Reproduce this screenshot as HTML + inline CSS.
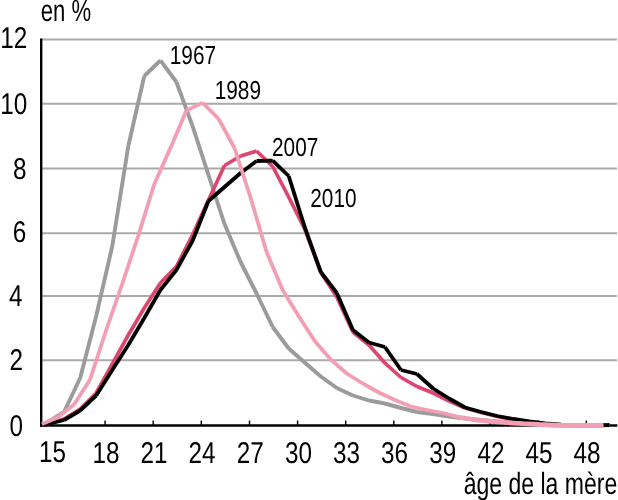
<!DOCTYPE html>
<html lang="fr"><head><meta charset="utf-8"><title>Graphique</title>
<style>
html,body{margin:0;padding:0;background:#fff;}
body{width:618px;height:500px;overflow:hidden;}
svg{display:block;}
text{font-family:"Liberation Sans",sans-serif;fill:#000;text-rendering:geometricPrecision;}
</style></head><body>
<svg width="618" height="500" viewBox="0 0 618 500">
<rect width="618" height="500" fill="#fff"/>
<line x1="41.2" x2="617" y1="39.4" y2="39.4" stroke="#aaaaaa" stroke-width="2"/>
<line x1="41.2" x2="617" y1="103.7" y2="103.7" stroke="#aaaaaa" stroke-width="2"/>
<line x1="41.2" x2="617" y1="168.6" y2="168.6" stroke="#aaaaaa" stroke-width="2"/>
<line x1="41.2" x2="617" y1="233.2" y2="233.2" stroke="#aaaaaa" stroke-width="2"/>
<line x1="41.2" x2="617" y1="296.0" y2="296.0" stroke="#aaaaaa" stroke-width="2"/>
<line x1="41.2" x2="617" y1="360.3" y2="360.3" stroke="#aaaaaa" stroke-width="2"/>
<line x1="41.2" x2="41.2" y1="38.4" y2="426.7" stroke="#000" stroke-width="2.4"/>
<line x1="40.0" x2="617.3" y1="425.5" y2="425.5" stroke="#000" stroke-width="2.4"/>
<line x1="105.1" x2="105.1" y1="420.5" y2="425.5" stroke="#000" stroke-width="1.4"/>
<line x1="153.2" x2="153.2" y1="420.5" y2="425.5" stroke="#000" stroke-width="1.4"/>
<line x1="201.3" x2="201.3" y1="420.5" y2="425.5" stroke="#000" stroke-width="1.4"/>
<line x1="249.5" x2="249.5" y1="420.5" y2="425.5" stroke="#000" stroke-width="1.4"/>
<line x1="297.6" x2="297.6" y1="420.5" y2="425.5" stroke="#000" stroke-width="1.4"/>
<line x1="345.7" x2="345.7" y1="420.5" y2="425.5" stroke="#000" stroke-width="1.4"/>
<line x1="393.8" x2="393.8" y1="420.5" y2="425.5" stroke="#000" stroke-width="1.4"/>
<line x1="441.9" x2="441.9" y1="420.5" y2="425.5" stroke="#000" stroke-width="1.4"/>
<line x1="490.1" x2="490.1" y1="420.5" y2="425.5" stroke="#000" stroke-width="1.4"/>
<line x1="538.2" x2="538.2" y1="420.5" y2="425.5" stroke="#000" stroke-width="1.4"/>
<line x1="586.3" x2="586.3" y1="420.5" y2="425.5" stroke="#000" stroke-width="1.4"/>
<path fill="none" stroke="#9b9b9b" stroke-width="3.9" stroke-linecap="butt" d="M42.4 424.8L48.1 422.0M48.1 422.0L64.1 412.0M64.1 412.0L80.2 378.0M80.2 378.0L96.2 316.0M96.2 316.0L112.3 246.0M112.3 246.0L128.3 146.0M128.3 146.0L144.3 76.0M144.3 76.0L160.4 60.4M160.4 60.4L176.4 82.0M176.4 82.0L192.5 125.8M192.5 125.8L208.5 175.0M208.5 175.0L224.5 224.0M224.5 224.0L240.6 262.0M240.6 262.0L256.6 293.5M256.6 293.5L272.7 327.0M272.7 327.0L288.7 348.5M288.7 348.5L304.7 362.5M304.7 362.5L320.8 376.5M320.8 376.5L336.8 388.0M336.8 388.0L352.9 395.5M352.9 395.5L368.9 400.5M368.9 400.5L384.9 403.5M384.9 403.5L401.0 408.0M401.0 408.0L417.0 412.0M417.0 412.0L433.1 414.0M433.1 414.0L449.1 416.5M449.1 416.5L465.1 418.5M465.1 418.5L481.2 420.0M481.2 420.0L497.2 421.5M497.2 421.5L513.3 422.5M513.3 422.5L529.3 423.5M529.3 423.5L545.3 424.5M545.3 424.5L561.4 425.2M561.4 425.2L577.4 425.3M577.4 425.3L593.5 425.3M593.5 425.3L609.5 425.3"/>
<path fill="none" stroke="#dc466e" stroke-width="3.7" stroke-linecap="butt" d="M42.4 424.8L48.1 424.0M48.1 424.0L64.1 419.0M64.1 419.0L80.2 409.0M80.2 409.0L96.2 393.0M96.2 393.0L112.3 364.0M112.3 364.0L128.3 335.0M128.3 335.0L144.3 308.0M144.3 308.0L160.4 283.0M160.4 283.0L176.4 266.5M176.4 266.5L192.5 235.0M192.5 235.0L208.5 200.0M208.5 200.0L224.5 165.5M224.5 165.5L240.6 156.0M240.6 156.0L256.6 151.0M256.6 151.0L272.7 166.5M272.7 166.5L288.7 197.0M288.7 197.0L304.7 229.0M304.7 229.0L320.8 272.5M320.8 272.5L336.8 297.0M336.8 297.0L352.9 332.0M352.9 332.0L368.9 345.0M368.9 345.0L384.9 363.0M384.9 363.0L401.0 377.5M401.0 377.5L417.0 386.5M417.0 386.5L433.1 393.0M433.1 393.0L449.1 401.0M449.1 401.0L465.1 408.0M465.1 408.0L481.2 412.5M481.2 412.5L497.2 416.5M497.2 416.5L513.3 419.5M513.3 419.5L529.3 422.0M529.3 422.0L545.3 424.0M545.3 424.0L561.4 425.0M561.4 425.0L577.4 425.2M577.4 425.2L593.5 425.2M593.5 425.2L609.5 425.2"/>
<path fill="none" stroke="#000" stroke-width="3.8" stroke-linecap="butt" d="M42.4 424.8L48.1 424.0M48.1 424.0L64.1 420.0M64.1 420.0L80.2 410.5M80.2 410.5L96.2 395.5M96.2 395.5L112.3 370.0M112.3 370.0L128.3 345.0M128.3 345.0L144.3 318.0M144.3 318.0L160.4 290.0M160.4 290.0L176.4 270.0M176.4 270.0L192.5 241.0M192.5 241.0L208.5 201.0M208.5 201.0L224.5 187.0M224.5 187.0L240.6 173.0M240.6 173.0L256.6 161.0M256.6 161.0L272.7 160.7M272.7 160.7L288.7 176.0M288.7 176.0L304.7 227.0M304.7 227.0L320.8 272.0M320.8 272.0L336.8 293.0M336.8 293.0L352.9 330.0M352.9 330.0L368.9 342.5M368.9 342.5L384.9 347.0M384.9 347.0L401.0 370.0M401.0 370.0L417.0 374.0M417.0 374.0L433.1 388.5M433.1 388.5L449.1 398.5M449.1 398.5L465.1 407.5M465.1 407.5L481.2 412.0M481.2 412.0L497.2 416.0M497.2 416.0L513.3 419.0M513.3 419.0L529.3 421.5M529.3 421.5L545.3 423.5M545.3 423.5L561.4 424.7M561.4 424.7L577.4 425.2M577.4 425.2L593.5 425.2M593.5 425.2L609.5 425.2"/>
<path fill="none" stroke="#f29fb4" stroke-width="3.6" stroke-linecap="butt" d="M459.0 417.5L475.1 420.4M475.1 420.4L491.1 422.0M491.1 422.0L507.2 423.3M507.2 423.3L523.2 424.2M523.2 424.2L539.2 425.1M539.2 425.1L555.3 425.9M555.3 425.9L571.3 426.2M571.3 426.2L587.4 426.2M587.4 426.2L603.4 426.2"/>
<path fill="none" stroke="#f29fb4" stroke-width="3.8" stroke-linecap="butt" d="M42.0 424.0L58.0 417.3M58.0 417.3L74.1 404.5M74.1 404.5L90.1 379.5M90.1 379.5L106.2 330.0M106.2 330.0L122.2 284.0M122.2 284.0L138.2 236.0M138.2 236.0L154.3 184.0M154.3 184.0L170.3 148.4M170.3 148.4L186.4 110.6M186.4 110.6L202.4 102.6M202.4 102.6L218.4 118.5M218.4 118.5L234.5 148.0M234.5 148.0L250.5 197.5M250.5 197.5L266.6 252.0M266.6 252.0L282.6 290.0M282.6 290.0L298.6 316.0M298.6 316.0L314.7 341.0M314.7 341.0L330.7 359.5M330.7 359.5L346.8 373.5M346.8 373.5L362.8 383.5M362.8 383.5L378.8 392.5M378.8 392.5L394.9 400.0M394.9 400.0L410.9 406.5M410.9 406.5L427.0 410.0M427.0 410.0L443.0 413.0M443.0 413.0L459.0 417.0M459.0 417.0L475.1 419.5M475.1 419.5L491.1 421.0M491.1 421.0L507.2 422.3M507.2 422.3L523.2 423.2M523.2 423.2L539.2 424.0M539.2 424.0L555.3 424.6M555.3 424.6L571.3 424.8M571.3 424.8L587.4 424.8M587.4 424.8L603.4 424.8"/>
<g opacity="0.999">
<text transform="translate(27.2,48.4) scale(0.81,1)" font-size="30.0" text-anchor="end">12</text>
<text transform="translate(27.2,114.0) scale(0.81,1)" font-size="30.0" text-anchor="end">10</text>
<text transform="translate(26.6,178.5) scale(0.81,1)" font-size="30.0" text-anchor="end">8</text>
<text transform="translate(26.3,241.7) scale(0.81,1)" font-size="30.0" text-anchor="end">6</text>
<text transform="translate(22.4,306.4) scale(0.81,1)" font-size="30.0" text-anchor="end">4</text>
<text transform="translate(23.1,369.9) scale(0.81,1)" font-size="30.0" text-anchor="end">2</text>
<text transform="translate(23.0,435.7) scale(0.81,1)" font-size="30.0" text-anchor="end">0</text>
<text transform="translate(52.4,462.2) scale(0.81,1)" font-size="30.0" text-anchor="middle">15</text>
<text transform="translate(105.9,462.6) scale(0.81,1)" font-size="30.0" text-anchor="middle">18</text>
<text transform="translate(154.0,462.6) scale(0.81,1)" font-size="30.0" text-anchor="middle">21</text>
<text transform="translate(202.1,462.6) scale(0.81,1)" font-size="30.0" text-anchor="middle">24</text>
<text transform="translate(250.3,462.6) scale(0.81,1)" font-size="30.0" text-anchor="middle">27</text>
<text transform="translate(298.4,462.6) scale(0.81,1)" font-size="30.0" text-anchor="middle">30</text>
<text transform="translate(346.5,462.6) scale(0.81,1)" font-size="30.0" text-anchor="middle">33</text>
<text transform="translate(394.6,462.6) scale(0.81,1)" font-size="30.0" text-anchor="middle">36</text>
<text transform="translate(442.7,462.6) scale(0.81,1)" font-size="30.0" text-anchor="middle">39</text>
<text transform="translate(490.9,462.6) scale(0.81,1)" font-size="30.0" text-anchor="middle">42</text>
<text transform="translate(539.0,462.6) scale(0.81,1)" font-size="30.0" text-anchor="middle">45</text>
<text transform="translate(587.1,462.6) scale(0.81,1)" font-size="30.0" text-anchor="middle">48</text>
<text transform="translate(40.8,20.7) scale(0.72,1)" font-size="30.7" text-anchor="start">en %</text>
<text transform="translate(617.2,494.1) scale(0.75,1)" font-size="30.7" text-anchor="end">âge de la mère</text>
<text transform="translate(169.8,63.6) scale(0.8,1)" font-size="26.0" text-anchor="start">1967</text>
<text transform="translate(214.7,98.6) scale(0.8,1)" font-size="26.0" text-anchor="start">1989</text>
<text transform="translate(272.0,155.6) scale(0.8,1)" font-size="26.0" text-anchor="start">2007</text>
<text transform="translate(310.3,206.6) scale(0.8,1)" font-size="26.0" text-anchor="start">2010</text>
</g>
</svg>
</body></html>
